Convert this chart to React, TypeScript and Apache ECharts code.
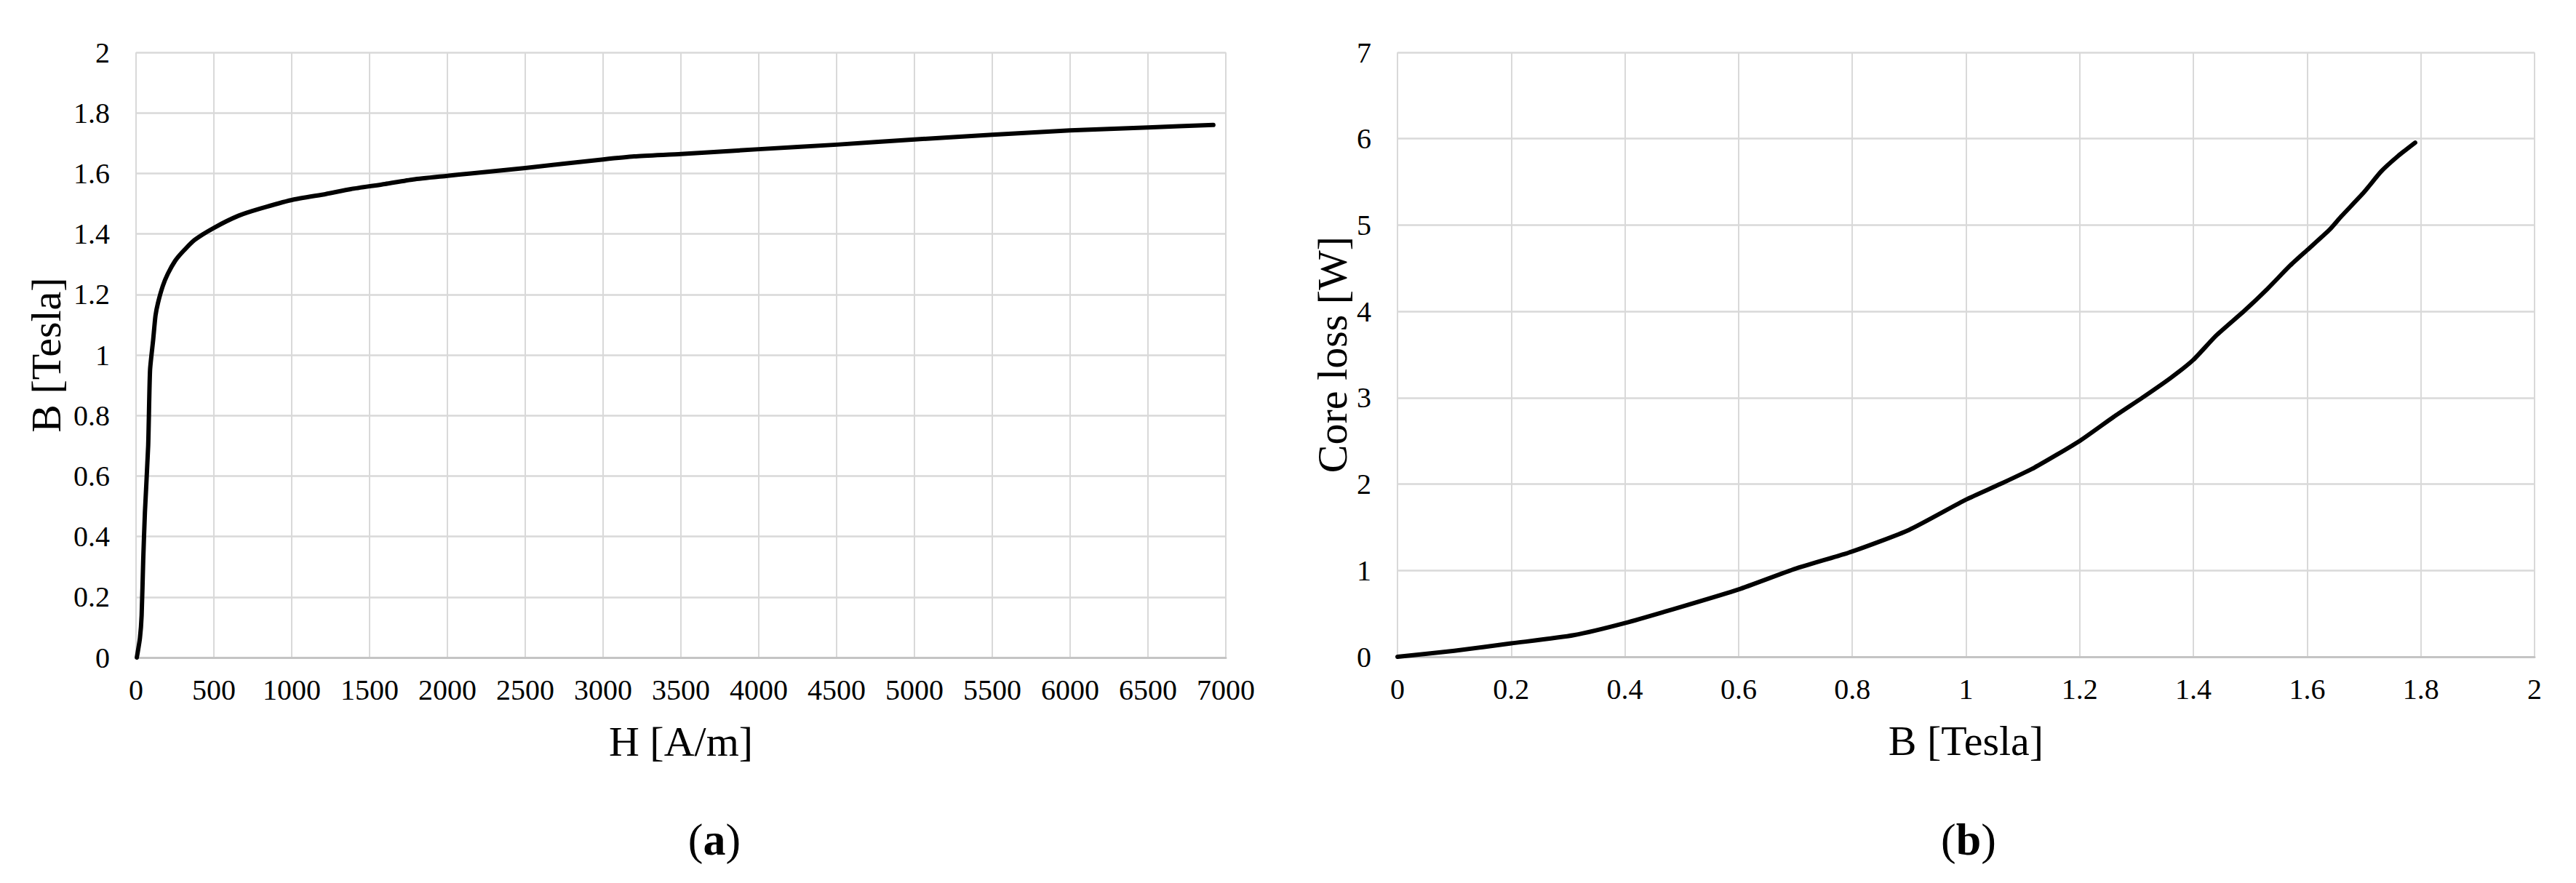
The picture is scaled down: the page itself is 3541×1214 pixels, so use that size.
import React, { useEffect, useRef } from "react";
import * as echarts from "echarts";

// (a) B-H magnetisation curve
const H_AM = [5, 25, 36, 46, 57, 78, 90, 110, 125, 141, 172, 204, 250, 298, 376, 500, 658, 800, 1000, 1220, 1380, 1600, 1780, 2000, 2150, 2500, 3000, 3200, 3500, 4000, 4500, 5000, 5500, 6000, 6500, 6920];
const B_T = [0, 0.064, 0.14, 0.32, 0.48, 0.7, 0.95, 1.05, 1.13, 1.172, 1.228, 1.268, 1.31, 1.34, 1.38, 1.42, 1.46, 1.484, 1.512, 1.532, 1.548, 1.565, 1.58, 1.592, 1.6, 1.618, 1.646, 1.656, 1.664, 1.68, 1.695, 1.712, 1.728, 1.742, 1.752, 1.76];

// (b) core loss vs flux density
const LOSS_B = [0, 0.1, 0.2, 0.31, 0.4, 0.5, 0.6, 0.7, 0.8, 0.9, 1.0, 1.06, 1.12, 1.2, 1.26, 1.31, 1.36, 1.4, 1.44, 1.49, 1.53, 1.57, 1.6, 1.64, 1.66, 1.7, 1.73, 1.76, 1.79];
const LOSS_W = [0, 0.07, 0.155, 0.25, 0.39, 0.58, 0.78, 1.02, 1.22, 1.47, 1.82, 2.0, 2.19, 2.5, 2.78, 3.0, 3.23, 3.44, 3.72, 4.01, 4.26, 4.53, 4.71, 4.95, 5.1, 5.38, 5.62, 5.8, 5.955];

const X_TITLES = ["H [A/m]", "B [Tesla]"];
const Y_TITLES = ["B [Tesla]", "Core loss [W]"];
const CAPTIONS = ["a", "b"];

const FONT = "'Liberation Serif', 'Times New Roman', serif";
const GRID_COLOR = "#d9d9d9";

const plain = (v: number) => String(Math.round(v * 1000) / 1000);

export default function App() {
  const ref = useRef<HTMLDivElement>(null);

  useEffect(() => {
    if (!ref.current) return;
    const chart = echarts.init(ref.current, null, { renderer: "svg" });

    const labelStyle = { fontFamily: FONT, fontSize: 40, color: "#000" };
    const nameStyle = { fontFamily: FONT, fontSize: 58, color: "#000" };

    const xAxisBase = (idx: number, max: number, interval: number, name: string) => ({
      type: "value",
      gridIndex: idx,
      min: 0,
      max,
      interval,
      name,
      nameLocation: "middle",
      nameGap: 86,
      nameTextStyle: nameStyle,
      axisLine: { show: true, lineStyle: { color: "#c4c4c4", width: 3 } },
      axisTick: { show: false },
      axisLabel: { ...labelStyle, margin: 24, formatter: plain },
      splitLine: { show: true, lineStyle: { color: GRID_COLOR, width: 2 } },
    });

    const yAxisBase = (idx: number, max: number, interval: number, name: string, gap: number) => ({
      type: "value",
      gridIndex: idx,
      min: 0,
      max,
      interval,
      name,
      nameLocation: "middle",
      nameGap: gap,
      nameTextStyle: nameStyle,
      axisLine: { show: false },
      axisTick: { show: false },
      axisLabel: { ...labelStyle, margin: 36, formatter: plain },
      splitLine: { show: true, lineStyle: { color: GRID_COLOR, width: 2.5 } },
    });

    const rich = {
      n: { fontFamily: FONT, fontSize: 62, color: "#000" },
      b: { fontFamily: FONT, fontSize: 62, fontWeight: "bold", color: "#000" },
    };

    const lineSeries = (idx: number, xs: number[], ys: number[]) => ({
      type: "line",
      xAxisIndex: idx,
      yAxisIndex: idx,
      data: xs.map((x, i) => [x, ys[i]]),
      showSymbol: false,
      smooth: 0.2,
      lineStyle: { color: "#000", width: 6, cap: "round", join: "round" },
      itemStyle: { color: "#000" },
    });

    chart.setOption({
      animation: false,
      backgroundColor: "#fff",
      grid: [
        { left: 187, top: 72, width: 1498, height: 832 },
        { left: 1921, top: 72, width: 1563, height: 831 },
      ],
      xAxis: [
        xAxisBase(0, 7000, 500, X_TITLES[0]),
        xAxisBase(1, 2, 0.2, X_TITLES[1]),
      ],
      yAxis: [
        yAxisBase(0, 2, 0.2, Y_TITLES[0], 95),
        yAxisBase(1, 7, 1, Y_TITLES[1], 61),
      ],
      series: [lineSeries(0, H_AM, B_T), lineSeries(1, LOSS_B, LOSS_W)],
      graphic: [
        {
          type: "text",
          x: 982,
          y: 1154,
          style: {
            text: `{n|(}{b|${CAPTIONS[0]}}{n|)}`,
            rich,
            align: "center",
            verticalAlign: "middle",
          },
        },
        {
          type: "text",
          x: 2706,
          y: 1154,
          style: {
            text: `{n|(}{b|${CAPTIONS[1]}}{n|)}`,
            rich,
            align: "center",
            verticalAlign: "middle",
          },
        },
      ],
    });

    return () => chart.dispose();
  }, []);

  return (
    <div
      ref={ref}
      style={{ position: "fixed", left: 0, top: 0, width: 3541, height: 1214, background: "#fff" }}
    />
  );
}
